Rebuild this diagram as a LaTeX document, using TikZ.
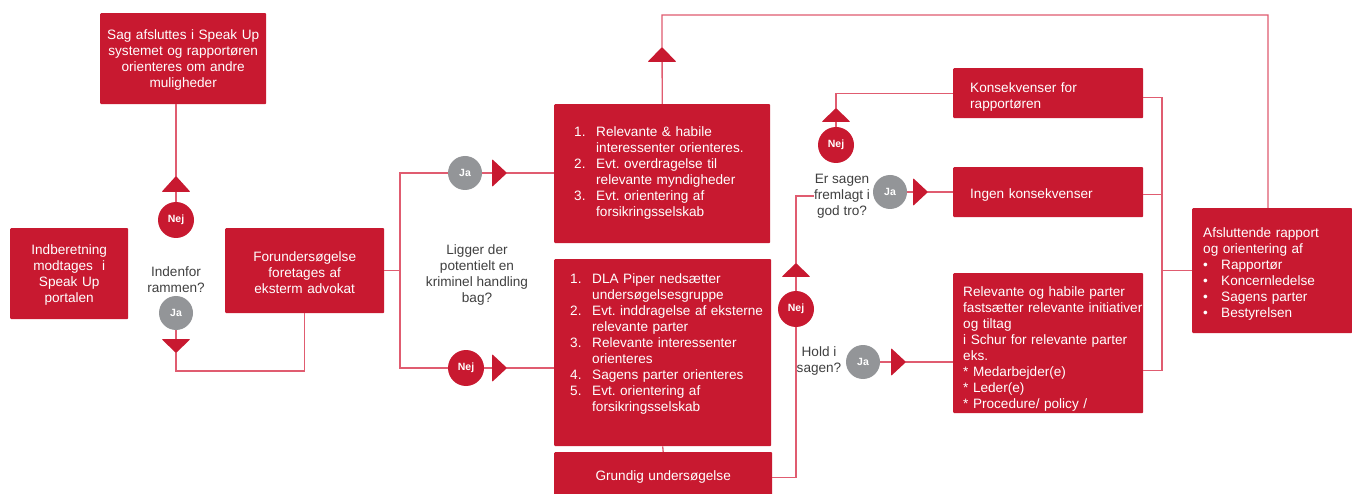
\documentclass[tikz,border=0pt]{standalone}
\usepackage{fontspec}
\setmainfont{Liberation Sans}
\usetikzlibrary{positioning}
\definecolor{boxred}{RGB}{200,25,48}
\definecolor{linkred}{RGB}{224,92,112}
\definecolor{dotgrey}{RGB}{147,149,152}
\definecolor{asktext}{RGB}{64,64,64}
\newcommand{\boxfont}{\fontsize{13.6}{16}\selectfont}
\newcommand{\down}[2]{\raisebox{-#1}[\height][\depth]{#2}}

\begin{document}
\begin{tikzpicture}[x=1pt,y=-1pt]
\tikzstyle{redbox}=[fill=boxred, text=white, font=\boxfont, inner xsep=0pt, inner ysep=0pt, anchor=north west, rounded corners=1pt]
\tikzstyle{midbox}=[redbox, align=center]
\tikzstyle{listbox}=[redbox, align=left]
\tikzstyle{ask}=[text=asktext, font=\boxfont, align=center, inner sep=0pt]
\tikzstyle{ja}=[circle, fill=dotgrey, minimum size=34pt, inner sep=0pt, text=white, font=\bfseries\fontsize{10.5}{12}\selectfont]
\tikzstyle{nej}=[ja, fill=boxred, minimum size=36pt]
\tikzstyle{link}=[draw=linkred, line width=1.3pt]
\tikzstyle{flag}=[fill=boxred, rounded corners=1pt]

% page
\useasboundingbox (0,0) rectangle (1352,494);
\fill[white] (0,0) rectangle (1352,494);
\clip (0,0) rectangle (1352,494);

% boxes
\node[midbox, text width=166pt, minimum height=91pt] (close) at (100,13) {\down{2pt}{\begin{tabular}{@{}c@{}}
Sag afsluttes i Speak Up\\ systemet og rapportøren\\ orienteres om andre\\ muligheder
\end{tabular}}};
\node[midbox, text width=118pt, minimum height=91pt] (intake) at (10,228) {\down{2pt}{\begin{tabular}{@{}c@{}}
Indberetning\\ modtages \ i\\ Speak Up\\ portalen
\end{tabular}}};
\node[midbox, text width=159pt, minimum height=85pt] (prelim) at (225,228) {\down{4pt}{\begin{tabular}{@{}c@{}}
Forundersøgelse\\ foretages af\\ eksterm advokat
\end{tabular}}};

\node[listbox, text width=216pt, minimum height=139pt] (inform) at (554,104) {\hspace*{20pt}\begin{tabular}{@{}p{22pt}@{}l@{}}
1. & Relevante \& habile\\ & interessenter orienteres.\\
2. & Evt.\ overdragelse til\\ & relevante myndigheder\\
3. & Evt.\ orientering af\\ & forsikringsselskab
\end{tabular}};
\node[listbox, text width=217pt, minimum height=187pt] (probe) at (554,259) {\hspace*{16pt}\begin{tabular}{@{}p{22pt}@{}l@{}}
1. & DLA Piper nedsætter\\ & undersøgelsesgruppe\\
2. & Evt.\ inddragelse af eksterne\\ & relevante parter\\
3. & Relevante interessenter\\ & orienteres\\
4. & Sagens parter orienteres\\
5. & Evt.\ orientering af\\ & forsikringsselskab\\
 & \\
\end{tabular}};
\node[midbox, text width=218pt, minimum height=50pt] (deep) at (554,452) {Grundig undersøgelse};

\node[listbox, text width=190pt, minimum height=50pt] (cons) at (953,68) {\hspace*{17pt}\down{4pt}{\begin{tabular}{@{}l@{}}
Konsekvenser for\\ rapportøren
\end{tabular}}};
\node[listbox, text width=190pt, minimum height=50pt] (plain) at (953,167) {\hspace*{17pt}\down{3pt}{Ingen konsekvenser}};
\node[listbox, text width=190pt, minimum height=140pt] (parties) at (953,273) {\hspace*{10pt}\down{6pt}{\begin{tabular}{@{}l@{}}
Relevante og habile parter\\ fastsætter relevante initiativer\\ og tiltag\\ i Schur for relevante parter\\ eks.\\ {*} Medarbejder(e)\\ {*} Leder(e)\\ {*} Procedure/ policy /
\end{tabular}}};
\node[listbox, text width=160pt, minimum height=125pt] (final) at (1192,208) {\hspace*{11pt}\down{4pt}{\begin{tabular}{@{}p{18pt}@{}l@{}}
\multicolumn{2}{@{}l@{}}{Afsluttende rapport}\\ \multicolumn{2}{@{}l@{}}{og orientering af}\\
\textbullet & Rapportør\\
\textbullet & Koncernledelse\\
\textbullet & Sagens parter\\
\textbullet & Bestyrelsen
\end{tabular}}};

% questions
\node[ask] (scopeq) at (176,280) {Indenfor\\ rammen?};
\node[ask] (crimeq) at (477,275) {Ligger der\\ potentielt en\\ kriminel handling\\ bag?};
\node[ask] (goodq) at (842,196) {Er sagen\\ fremlagt i\\ god tro?};
\node[ask] (holdq) at (819,361) {Hold i\\ sagen?};

% answers
\node[nej] (noA) at (176,220) {Nej};
\node[ja] (yesA) at (176,313) {Ja};
\node[ja] (yesB) at (465,173) {Ja};
\node[nej] (noB) at (466,368) {Nej};
\node[nej] (noC) at (836,145) {Nej};
\node[ja] (yesC) at (890,192) {Ja};
\node[nej] (noD) at (796,309) {Nej};
\node[ja] (yesD) at (863,362) {Ja};

% connectors
\coordinate (loop) at (176,371);
\coordinate (split) at (400,271);
\coordinate (topL) at (662,15);
\coordinate (topR) at (1268,15);
\coordinate (spine) at (796,0);
\coordinate (bus) at (1162,0);

\draw[link] (noA.north |- close.south) -- (noA);
\draw[link] (yesA) -- (loop) -| (prelim.south);
\draw[link] (prelim.east) -- (prelim.east -| split);
\draw[link] (yesB) -| (split) |- (noB);
\draw[link] (yesB) -- (yesB -| inform.west);
\draw[link] (noB) -- (noB -| probe.west);
\draw[link] (inform.north) -- (topL) -- (topR) -- (topR |- final.north);
\draw[link] (probe.south) -- (deep.north);
\draw[link] (deep.east) -- (deep.east -| spine) -- (noD);
\draw[link] (noD) |- (goodq.west);
\draw[link] (yesC) -- (yesC -| plain.west);
\draw[link] (noC) |- (cons.west);
\draw[link] (yesD) -- (yesD -| parties.west);
\draw[link] ([yshift=-4pt]cons.east) -- ([yshift=-4pt]cons.east -| bus) -- ([yshift=-27pt]parties.east -| bus) -- ([yshift=-27pt]parties.east);
\draw[link] ([yshift=-2pt]plain.east) -- ([yshift=-2pt]plain.east -| bus);
\draw[link] (final.west -| bus) -- (final.west);

% direction flags
\fill[flag] (176,176) -- (190.5,192) -- (161.5,192) -- cycle;
\fill[flag] (176,353) -- (190.5,339) -- (161.5,339) -- cycle;
\fill[flag] (507,173) -- (492,159) -- (492,187) -- cycle;
\fill[flag] (507,368) -- (492,354) -- (492,382) -- cycle;
\fill[flag] (662,47) -- (676.5,62) -- (647.5,62) -- cycle;
\fill[flag] (836,108) -- (850.5,122) -- (821.5,122) -- cycle;
\fill[flag] (928,192) -- (913,178) -- (913,206) -- cycle;
\fill[flag] (796,263) -- (810.5,277) -- (781.5,277) -- cycle;
\fill[flag] (906,362) -- (891,348) -- (891,376) -- cycle;
\end{tikzpicture}
\end{document}
